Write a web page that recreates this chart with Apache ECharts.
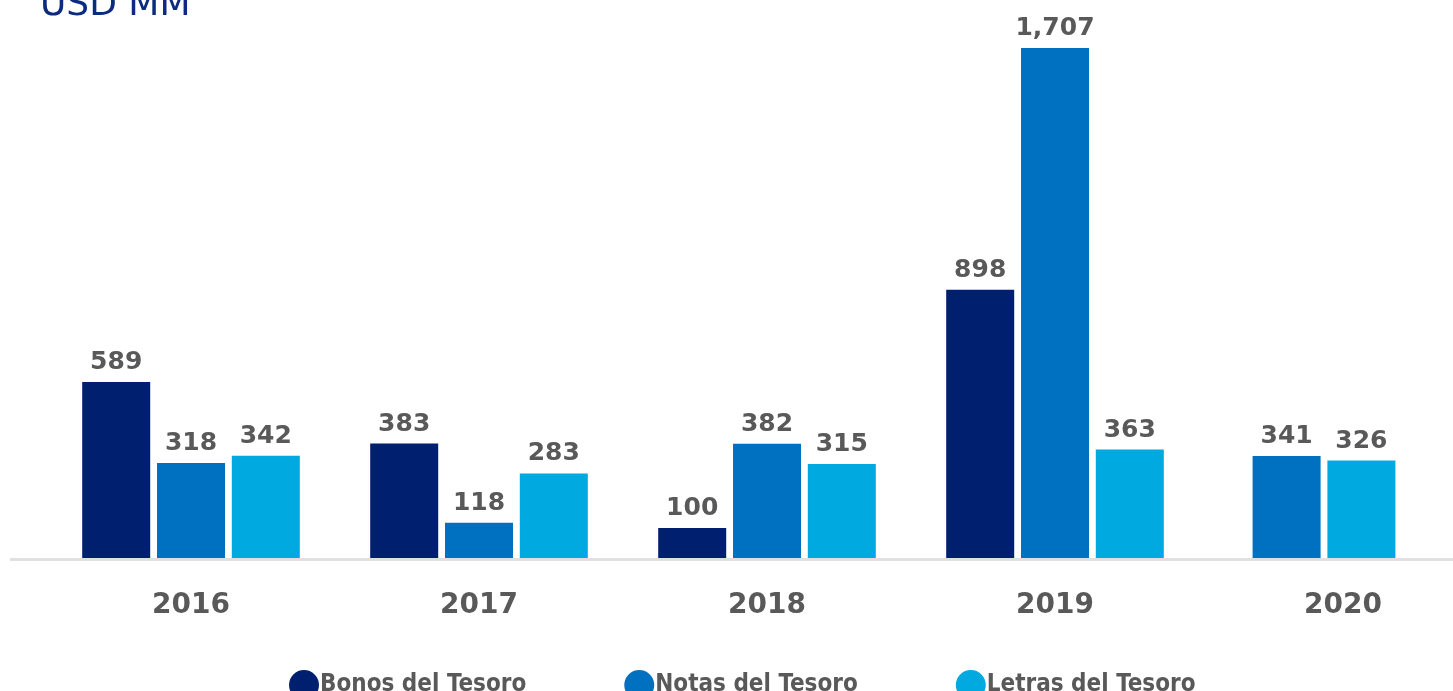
<!DOCTYPE html>
<html>
<head>
<meta charset="utf-8">
<script src="https://cdn.jsdelivr.net/npm/echarts@6/dist/echarts.min.js"></script>
<style>
  html, body { margin: 0; padding: 0; background: #fff; overflow: hidden; }
  /* a bit wider than the window: the last category runs past the right edge in the original */
  #chart { width: 1490px; height: 691px; }
</style>
</head>
<body>
<div id="chart"></div>
<script>
const years = ['2016', '2017', '2018', '2019', '2020']
const bonos = [589, 383, 100, 898, null]
const notas = [318, 118, 382, 1707, 341]
const letras = [342, 283, 315, 363, 326]
const yMax = 1707

// the last year has no Bonos, so its two bars sit on their own (hidden) axis to stay centred
const lastIdx = years.length - 1
const onlyLast = arr => arr.map((v, i) => (i === lastIdx ? v : null))
const exceptLast = arr => arr.map((v, i) => (i === lastIdx ? null : v))

const colors = { bonos: '#001F6E', notas: '#0070C0', letras: '#00A9E0' }
const font = 'DejaVu Sans'

const label = {
  show: true,
  position: 'top',
  distance: 7,
  color: '#595959',
  fontFamily: font,
  fontWeight: 'bold',
  fontSize: 25,
  formatter: p => p.value.toLocaleString('en-US')
}

const bar = (name, data, axis, color) => ({
  name: name,
  type: 'bar',
  xAxisIndex: axis,
  yAxisIndex: axis,
  data: data,
  barWidth: 68,
  barGap: '10%',
  itemStyle: { color: color },
  label: label
})

const chart = echarts.init(document.getElementById('chart'))
chart.setOption({
  animation: false,
  title: {
    text: 'USD MM',
    left: 35,
    top: -17,
    textStyle: { color: '#0B2A80', fontFamily: font, fontWeight: 'normal', fontSize: 36 }
  },
  legend: {
    data: ['Bonos del Tesoro', 'Notas del Tesoro', 'Letras del Tesoro'],
    icon: 'circle',
    left: 284,
    top: 665,
    itemWidth: 30,
    itemHeight: 30,
    itemGap: 98,
    textStyle: {
      color: '#595959',
      fontFamily: '"DejaVu Sans Condensed", "Roboto Condensed", Roboto',
      fontWeight: 'bold',
      fontSize: 24,
      padding: [0, 0, 0, -4]
    }
  },
  grid: [
    { left: 47, right: 3, top: 48, bottom: 133 },
    { left: 28, right: 22, top: 48, bottom: 133 }
  ],
  xAxis: [
    {
      type: 'category',
      gridIndex: 0,
      data: years,
      axisLine: { show: false },
      axisTick: { show: false },
      axisLabel: { color: '#595959', fontFamily: font, fontWeight: 'bold', fontSize: 28, margin: 34 }
    },
    { type: 'category', gridIndex: 1, data: years, show: false }
  ],
  yAxis: [
    { type: 'value', gridIndex: 0, min: 0, max: yMax, show: false, splitLine: { show: false } },
    { type: 'value', gridIndex: 1, min: 0, max: yMax, show: false, splitLine: { show: false } }
  ],
  graphic: [{
    type: 'rect',
    shape: { x: 10, y: 558, width: 1443, height: 3 },
    style: { fill: '#E0E0E0' },
    z: -1
  }],
  series: [
    bar('Bonos del Tesoro', bonos, 0, colors.bonos),
    bar('Notas del Tesoro', exceptLast(notas), 0, colors.notas),
    bar('Letras del Tesoro', exceptLast(letras), 0, colors.letras),
    bar('Notas del Tesoro', onlyLast(notas), 1, colors.notas),
    bar('Letras del Tesoro', onlyLast(letras), 1, colors.letras)
  ]
})
</script>
</body>
</html>
